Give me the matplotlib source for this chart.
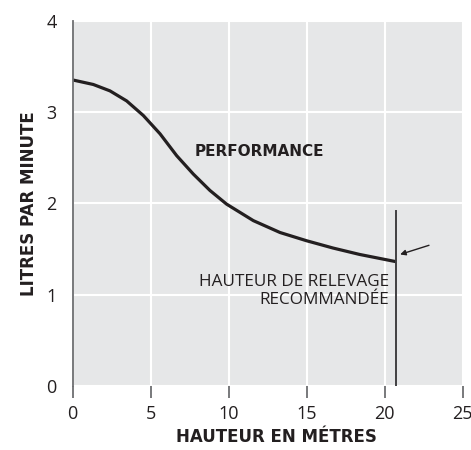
import matplotlib
matplotlib.use("Agg")
import matplotlib.pyplot as plt

# performance curve
hauteur = [0, 1.33, 2.4, 3.47, 4.54, 5.61, 6.68, 7.74, 8.81, 9.88, 11.59, 13.3, 15.0, 16.7, 18.4, 20.76]
litres = [3.35, 3.30, 3.23, 3.12, 2.96, 2.76, 2.52, 2.32, 2.14, 1.99, 1.81, 1.68, 1.59, 1.51, 1.44, 1.36]

# recommended lift height marker
hauteur_reco = 20.76
reco_top = 1.92

x_ticks = [0, 5, 10, 15, 20, 25]
y_ticks = [0, 1, 2, 3, 4]

plt.rcParams['font.family'] = ['Open Sans', 'DejaVu Sans']
bold_font = ['DejaVu Sans']

fig = plt.figure(figsize=(4.71, 4.5), dpi=100)
ax = fig.add_axes([0.154, 0.1422, 0.828, 0.8122])
ax.set_facecolor("#e6e7e8")

ax.set_xlim(0, 25)
ax.set_ylim(0, 4)
ax.set_xticks(x_ticks)
ax.set_yticks(y_ticks)
ax.grid(True, color="white", linewidth=1.5)
ax.set_axisbelow(True)

for s in ["top", "right", "bottom"]:
    ax.spines[s].set_visible(False)
ax.spines["left"].set_color("#6d6e71")
ax.spines["left"].set_linewidth(1.3)

ax.tick_params(axis="x", direction="out", length=8.5, width=1.3, color="#6d6e71",
               pad=5, labelsize=13, labelcolor="#231f20")
ax.tick_params(axis="y", length=0, pad=11.5, labelsize=13, labelcolor="#231f20")

ax.plot(hauteur, litres, color="#231f20", linewidth=2.3, solid_capstyle="butt",
        solid_joinstyle="round")
ax.plot([hauteur_reco, hauteur_reco], [0, reco_top], color="#414042", linewidth=1.4)

ax.annotate("", xy=(21.0, 1.44), xytext=(22.85, 1.54),
            arrowprops=dict(arrowstyle="-|>", color="#231f20", lw=1, mutation_scale=8,
                            shrinkA=0, shrinkB=0))

ax.text(7.85, 2.57, "PERFORMANCE", fontsize=11, fontweight="bold", family=bold_font,
        color="#231f20", ha="left", va="center")
ax.text(20.3, 1.04, "HAUTEUR DE RELEVAGE\nRECOMMANDÉE", fontsize=12.3, color="#231f20",
        ha="right", va="center", linespacing=1.12)

ax.set_xlabel("HAUTEUR EN MÉTRES", fontsize=12, fontweight="bold", family=bold_font,
              color="#231f20", labelpad=4)
ax.xaxis.set_label_coords(0.523, -0.115)
ax.set_ylabel("LITRES PAR MINUTE", fontsize=12, fontweight="bold", family=bold_font,
              color="#231f20", labelpad=6)

fig.savefig("out.png", dpi=100)
